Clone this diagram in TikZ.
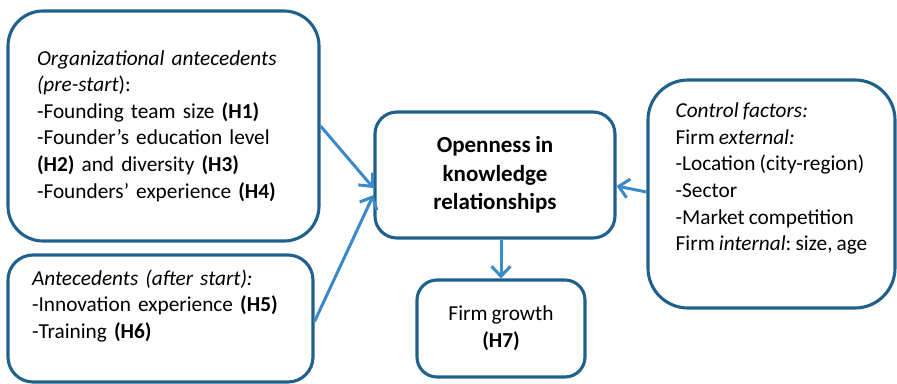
\documentclass[tikz,border=0pt]{standalone}
\usepackage{fontspec}
\setmainfont[WordSpace=0.85]{Carlito}
\frenchspacing
\usetikzlibrary{arrows.meta}
\definecolor{boxblue}{RGB}{31,96,141}
\definecolor{arrowblue}{RGB}{58,138,201}
\tikzstyle{box}=[draw=boxblue,line width=3.1pt,fill=white,font=\fontsize{21.3}{26.6}\selectfont]
\tikzstyle{link}=[draw=arrowblue,line width=3pt,-{Straight Barb[length=10pt,width=19pt]}]

\begin{document}
\begin{tikzpicture}[x=1pt,y=-1pt]
    \useasboundingbox (0,0) rectangle (897,383);

    \node[box,rounded corners=35pt,inner xsep=29pt,text width=253pt,minimum height=230pt,align=left] (org) at (163.5,126)
        {\textit{Organizational antecedents}\\\textit{(pre-start}):\\-Founding team size \textbf{(H1)}\\-Founder’s education level\\\textbf{(H2)} and diversity \textbf{(H3)}\\-Founders’ experience \textbf{(H4)}};
    \node[box,rounded corners=25pt,inner xsep=24pt,text width=257pt,minimum height=127pt,align=left] (after) at (160.5,318.5)
        {\textit{Antecedents (after start):}\\-Innovation experience \textbf{(H5)}\\-Training \textbf{(H6)}\\[-6pt]\strut};
    \node[box,rounded corners=22pt,minimum width=240pt,minimum height=126pt,align=center,font=\fontsize{23}{28.5}\selectfont\bfseries] (open) at (495,175)
        {Openness in\\knowledge\\relationships};
    \node[box,rounded corners=20pt,minimum width=168pt,minimum height=97pt,align=center] (growth) at (501,328.5)
        {Firm growth\\\textbf{(H7)}};
    \node[box,rounded corners=40pt,minimum width=247pt,minimum height=228pt,align=left] (ctrl) at (771.5,194)
        {\textit{Control factors:}\\Firm \textit{external:}\\-Location (city-region)\\-Sector\\-Market competition\\Firm \textit{internal}: size, age\\\strut};

    \draw[link] (org.east) -- ([yshift=-13pt]open.west);
    \draw[link] ([yshift=-3pt]after.east) -- ([yshift=-20pt]open.west);
    \draw[link] ([yshift=2pt]ctrl.west) -- ([yshift=-11pt]open.east);
    \draw[link] (open.south -| growth.north) -- (growth.north);

\end{tikzpicture}
\end{document}
